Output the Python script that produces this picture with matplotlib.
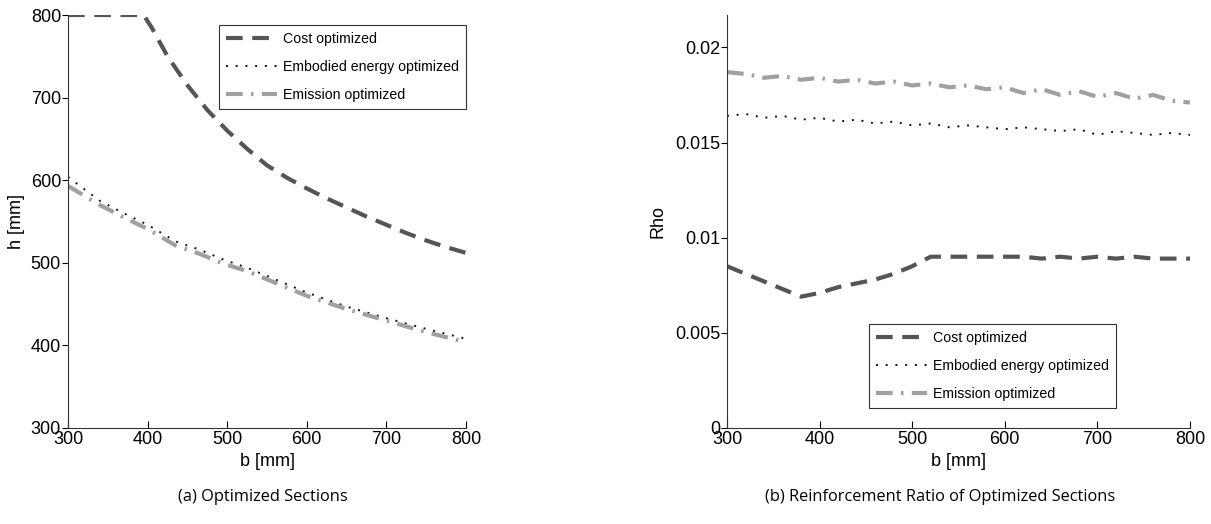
import matplotlib
matplotlib.use("Agg")
import matplotlib.pyplot as plt

# section depth vs width
b_h = [300, 350, 395, 405, 425, 450, 475, 500, 525, 550, 575, 600,
       625, 650, 675, 700, 725, 750, 775, 800]
h_cost = [800, 800, 800, 785, 750, 715, 685, 660, 638, 618, 603, 590,
          578, 567, 556, 546, 536, 527, 519, 512]
b_h2 = [300, 340, 370, 400, 435, 465, 495, 525, 550, 600, 650, 700, 750, 800]
h_energy = [604, 575, 560, 546, 526, 516, 504, 494, 484, 464, 447, 433, 420, 408]
h_emission = [593, 570, 555, 541, 521, 511, 499, 490, 480, 460, 444, 430, 416, 404]

# reinforcement ratio vs width
b_rho = list(range(300, 801, 20))
rho_cost = [0.0085, 0.0081, 0.0077, 0.0073, 0.0069, 0.0071, 0.0074, 0.0076, 0.0078,
            0.0081, 0.0085, 0.0090, 0.0090, 0.0090, 0.0090, 0.0090, 0.0090, 0.0089,
            0.0090, 0.0089, 0.0090, 0.0089, 0.0090, 0.0089, 0.0089, 0.0089]
rho_energy = [0.0164, 0.0165, 0.0163, 0.0164, 0.0162, 0.0163, 0.0161, 0.0162, 0.0160,
              0.0161, 0.0159, 0.0160, 0.0158, 0.0159, 0.0158, 0.0157, 0.0158, 0.0157,
              0.0156, 0.0157, 0.0154, 0.0156, 0.0155, 0.0154, 0.0155, 0.0154]
rho_emission = [0.0187, 0.0186, 0.0184, 0.0185, 0.0183, 0.0184, 0.0182, 0.0183, 0.0181,
                0.0182, 0.0180, 0.0181, 0.0179, 0.0180, 0.0178, 0.0179, 0.0176, 0.0178,
                0.0175, 0.0177, 0.0174, 0.0176, 0.0173, 0.0175, 0.0172, 0.0171]

labels = ["Cost optimized", "Embodied energy optimized", "Emission optimized"]

plt.rcParams["font.family"] = ["Liberation Sans", "DejaVu Sans"]
plt.rcParams["font.size"] = 13

W, H = 1211, 524
fig = plt.figure(figsize=(W / 100, H / 100), dpi=100)


def box(x0, x1, ytop, ybot):
    return [x0 / W, 1 - ybot / H, (x1 - x0) / W, (ybot - ytop) / H]


ax1 = fig.add_axes(box(68, 466, 15, 428))
ax2 = fig.add_axes(box(727, 1190, 15, 428))

cost_style = dict(color="#555555", lw=3, ls=(0, (4, 2.3)))
energy_style = dict(color="#111111", lw=1.4, ls=(0, (1, 4)))
emis_style = dict(color="#a0a0a0", lw=3, ls=(0, (4, 2, 0.6, 2)))

leg_kw = dict(frameon=True, fancybox=False, edgecolor="black", handlelength=3.6,
              handletextpad=0.4, borderaxespad=0, labelspacing=1.0, borderpad=0.5,
              fontsize=10.2)

ax1.plot(b_h, h_cost, label=labels[0], **cost_style)
ax1.plot(b_h2, h_energy, label=labels[1], **energy_style)
ax1.plot(b_h2, h_emission, label=labels[2], **emis_style)
ax1.set_xlim(300, 800)
ax1.set_ylim(300, 800)
ax1.set_xticks(range(300, 801, 100))
ax1.set_yticks(range(300, 801, 100))
ax1.set_xlabel("b [mm]", labelpad=4)
ax1.set_ylabel("h [mm]", labelpad=4)
leg1 = ax1.legend(loc="upper right", bbox_to_anchor=(1.0, 0.976), **leg_kw)

ax2.plot(b_rho, rho_cost, label=labels[0], **cost_style)
ax2.plot(b_rho, rho_energy, label=labels[1], **energy_style)
ax2.plot(b_rho, rho_emission, label=labels[2], **emis_style)
ax2.set_xlim(300, 800)
ax2.set_ylim(0, 0.0217)
ax2.set_xticks(range(300, 801, 100))
ax2.set_yticks([0, 0.005, 0.01, 0.015, 0.02])
ax2.set_yticklabels(["0", "0.005", "0.01", "0.015", "0.02"])
ax2.set_xlabel("b [mm]", labelpad=4)
ax2.set_ylabel("Rho", labelpad=6)
leg2 = ax2.legend(loc="lower right", bbox_to_anchor=(0.84, 0.048), **leg_kw)

for leg in (leg1, leg2):
    leg.get_frame().set_linewidth(0.8)

for ax in (ax1, ax2):
    for s in ("top", "right"):
        ax.spines[s].set_visible(False)
    for s in ("left", "bottom"):
        ax.spines[s].set_color("#333333")
        ax.spines[s].set_linewidth(0.8)
    ax.tick_params(axis="x", direction="in", length=5, width=0.8, pad=2, labelsize=13)
    ax.tick_params(axis="y", direction="out", length=4, width=0.8, pad=1, labelsize=13)

fig.text(263 / W, 1 - 497 / H, "(a) Optimized Sections", ha="center", va="center",
         fontsize=11.8, family=["Open Sans", "DejaVu Sans"])
fig.text(940 / W, 1 - 497 / H, "(b) Reinforcement Ratio of Optimized Sections",
         ha="center", va="center", fontsize=11.8, family=["Open Sans", "DejaVu Sans"])

fig.savefig("out.png", dpi=100)
